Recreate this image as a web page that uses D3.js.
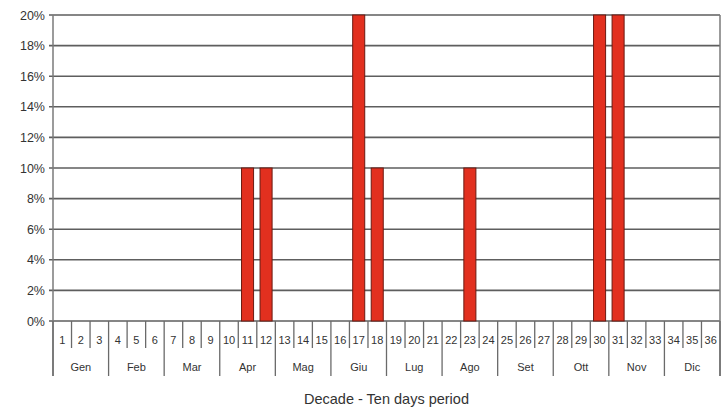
<!DOCTYPE html>
<html>
<head>
<meta charset="utf-8">
<script src="https://cdn.jsdelivr.net/npm/d3@7"></script>
<style>
  body { margin: 0; background: #fff; }
  svg text { font-family: "Liberation Sans", Arial, sans-serif; fill: #333; }
</style>
</head>
<body>
<div id="chart"></div>
<script>
// decades 1..36 and the share for each one
var decades = d3.range(1, 37);
var shares = [0,0,0,0,0,0,0,0,0,0,10,10,0,0,0,0,20,10,0,0,0,0,10,0,0,0,0,0,0,20,20,0,0,0,0,0];
var months = ["Gen","Feb","Mar","Apr","Mag","Giu","Lug","Ago","Set","Ott","Nov","Dic"];
var yTicks = [0,2,4,6,8,10,12,14,16,18,20];

(function () {
var width = 725, height = 410;
var mLeft = 53, mRight = 720, mTop = 15, mBottom = 321;

var svg = d3.select("#chart").append("svg")
    .attr("width", width)
    .attr("height", height);

var x = d3.scaleBand().domain(decades).range([mLeft, mRight])
    .paddingInner(0.35).paddingOuter(0.175);
var y = d3.scaleLinear().domain([0, 20]).range([mBottom, mTop]);
var step = x.step();

// gridlines
svg.selectAll(".grid")
    .data(yTicks)
  .enter().append("line")
    .attr("x1", mLeft - 4).attr("x2", mRight)
    .attr("y1", function(d) { return y(d); })
    .attr("y2", function(d) { return y(d); })
    .attr("stroke", "#5e5e5e")
    .attr("stroke-width", 1.6);

svg.selectAll(".ylab")
    .data(yTicks)
  .enter().append("text")
    .attr("x", mLeft - 8)
    .attr("y", function(d) { return y(d) + 4.5; })
    .attr("text-anchor", "end")
    .attr("font-size", 12.5)
    .text(function(d) { return d + "%"; });

// right border
svg.append("line")
    .attr("x1", mRight).attr("x2", mRight)
    .attr("y1", mTop).attr("y2", mBottom + 55)
    .attr("stroke", "#7a7a7a").attr("stroke-width", 1.5);

// bars
svg.selectAll(".bar")
    .data(decades.filter(function(d, i) { return shares[i] > 0; }))
  .enter().append("rect")
    .attr("x", function(d) { return x(d); })
    .attr("y", function(d) { return y(shares[d - 1]); })
    .attr("width", x.bandwidth())
    .attr("height", function(d) { return mBottom - y(shares[d - 1]); })
    .attr("fill", "#e2301f")
    .attr("stroke", "#6b1a12")
    .attr("stroke-width", 1);

// left axis
svg.append("line")
    .attr("x1", mLeft).attr("x2", mLeft)
    .attr("y1", mTop).attr("y2", mBottom + 55)
    .attr("stroke", "#7a7a7a").attr("stroke-width", 1.5);

// category separators
var bounds = d3.range(0, 37);
svg.selectAll(".sep")
    .data(bounds)
  .enter().append("line")
    .attr("x1", function(d) { return mLeft + d * step; })
    .attr("x2", function(d) { return mLeft + d * step; })
    .attr("y1", mBottom)
    .attr("y2", function(d) { return d % 3 === 0 ? mBottom + 55 : mBottom + 27; })
    .attr("stroke", "#6a6a6a")
    .attr("stroke-width", 1.3);

svg.selectAll(".xlab")
    .data(decades)
  .enter().append("text")
    .attr("x", function(d) { return x(d) + x.bandwidth() / 2; })
    .attr("y", mBottom + 23)
    .attr("text-anchor", "middle")
    .attr("font-size", 11)
    .text(function(d) { return d; });

svg.selectAll(".mlab")
    .data(months)
  .enter().append("text")
    .attr("x", function(d, i) { return mLeft + (i * 3 + 1.5) * step; })
    .attr("y", mBottom + 50)
    .attr("text-anchor", "middle")
    .attr("font-size", 11)
    .text(function(d) { return d; });

svg.append("text")
    .attr("x", (mLeft + mRight) / 2)
    .attr("y", 404)
    .attr("text-anchor", "middle")
    .attr("font-size", 14.5)
    .text("Decade - Ten days period");
})();
</script>
</body>
</html>
